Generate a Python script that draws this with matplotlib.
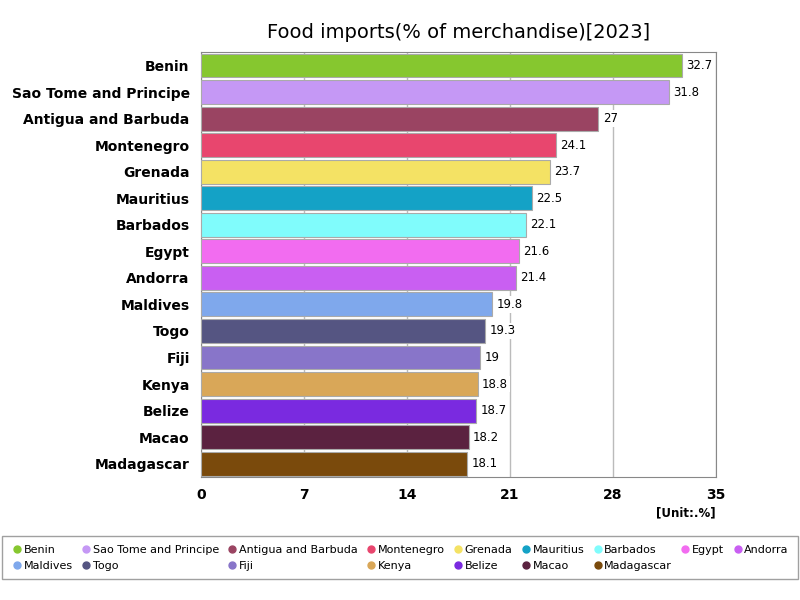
import matplotlib
matplotlib.use("Agg")
import matplotlib.pyplot as plt
from matplotlib.lines import Line2D

countries = ["Benin","Sao Tome and Principe","Antigua and Barbuda","Montenegro","Grenada",
             "Mauritius","Barbados","Egypt","Andorra","Maldives","Togo","Fiji","Kenya",
             "Belize","Macao","Madagascar"]
values = [32.7,31.8,27,24.1,23.7,22.5,22.1,21.6,21.4,19.8,19.3,19,18.8,18.7,18.2,18.1]
colors = ["#86c72f","#c598f5","#9a4462","#e8466e","#f4e264","#14a2c6","#80fcfc","#f26cf0",
          "#c95ff2","#7fa8ec","#555582","#8875c9","#d9a758","#7a2ae0","#5b2240","#7a4a0c"]
xticks = [0,7,14,21,28,35]

fig = plt.figure(figsize=(8,6), dpi=100)
ax = fig.add_axes([0.251,0.205,0.644,0.708])
y = list(range(len(countries)))
ax.barh(y, values, height=0.9, color=colors, edgecolor="#aaaaaa", linewidth=0.8, zorder=3)
for yi, v in zip(y, values):
    ax.text(v+0.3, yi, f"{v:g}", va="center", ha="left", fontsize=8.5, zorder=4,
            bbox=dict(boxstyle="square,pad=0.15", fc="white", ec="none"))
ax.set_ylim(len(countries)-0.5, -0.5)
ax.set_xlim(0,35)
ax.set_xticks(xticks)
ax.set_xticklabels([str(t) for t in xticks], fontsize=10, fontweight="bold")
ax.set_yticks(y)
ax.set_yticklabels(countries, fontsize=10, fontweight="bold")
ax.tick_params(length=0, pad=8)
ax.grid(axis="x", color="#bbbbbb", linewidth=1, zorder=0)
for s in ax.spines.values():
    s.set_color("#888888")
ax.set_title("Food imports(% of merchandise)[2023]", fontsize=14, pad=10)
fig.text(0.895, 0.14, "[Unit:.%]", ha="right", fontsize=8.5, fontweight="bold")

handles = [Line2D([0],[0], marker="o", color="none", markerfacecolor=c, markeredgecolor=c,
                  markersize=5) for c in colors]
# reorder so that matplotlib's column-major fill reads row-major (9 on first row, 7 on second)
order = []
for i in range(9):
    order.append(i)
    if i + 9 < len(countries):
        order.append(i + 9)
leg = fig.legend([handles[i] for i in order], [countries[i] for i in order],
                 loc="lower center", bbox_to_anchor=(0.5,0.025),
                 ncol=9, fontsize=8, frameon=True, fancybox=False, edgecolor="#888888",
                 handletextpad=0.1, columnspacing=0.7, handlelength=1.0,
                 borderpad=0.8)
fig.savefig("out.png", dpi=100)
